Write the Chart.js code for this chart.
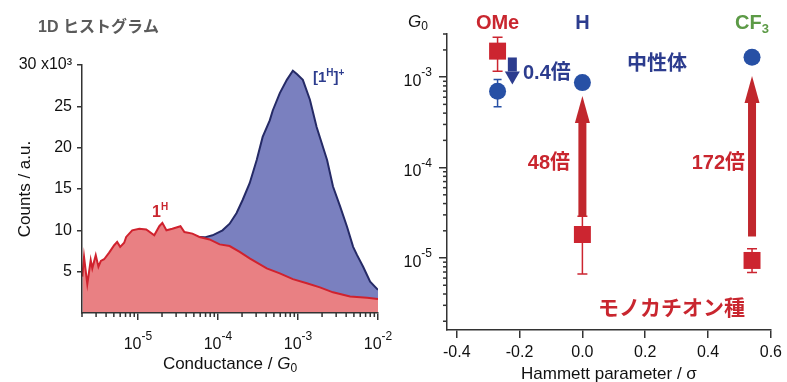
<!DOCTYPE html>
<html>
<head>
<meta charset="utf-8">
<script src="https://cdn.jsdelivr.net/npm/chart.js@4.4.1/dist/chart.umd.min.js"></script>
<style>
body { margin: 0; background: #fff; width: 787px; height: 382px; overflow: hidden; position: relative; }
canvas { position: absolute; top: 0; }
#histChart { left: 0; }
#hammettChart { left: 390px; }
</style>
</head>
<body>
<canvas id="histChart" width="400" height="382"></canvas>
<canvas id="hammettChart" width="397" height="382"></canvas>
<script>
// 1D histogram of 1H (neutral), conductance in G0, counts in 10^3
var histG1H = [2.02e-6, 2.12e-6, 2.33e-6, 2.57e-6, 2.69e-6, 2.97e-6, 3.21e-6, 3.44e-6, 3.78e-6, 4.37e-6,
    5.05e-6, 5.50e-6, 6.00e-6, 6.73e-6, 7.13e-6, 8.48e-6, 1.04e-5, 1.27e-5, 1.60e-5, 1.85e-5,
    2.02e-5, 2.27e-5, 2.69e-5, 3.40e-5, 3.81e-5, 4.80e-5, 5.87e-5, 7.85e-5, 1.05e-4, 1.40e-4,
    1.87e-4, 2.49e-4, 4.07e-4, 5.93e-4, 8.63e-4, 1.29e-3, 1.88e-3, 2.74e-3, 4.48e-3, 7.32e-3, 1.0e-2];
var histCounts1H = [4.4, 6.8, 3.5, 6.4, 5.4, 7.0, 5.6, 6.3, 6.5, 7.3,
    8.2, 8.6, 8.0, 8.5, 9.2, 10.0, 10.2, 10.1, 9.4, 10.5,
    10.9, 10.0, 10.2, 10.5, 9.8, 9.6, 9.2, 8.9, 8.3, 8.1,
    7.4, 6.6, 5.4, 4.8, 4.1, 3.6, 3.1, 2.5, 2.0, 1.85, 1.7];

// 1D histogram of [1H]+ (monocation)
var histGCation = [5.87e-5, 6.83e-5, 8.55e-5, 1.14e-4, 1.40e-4, 1.71e-4, 2.04e-4, 2.49e-4, 3.05e-4, 3.62e-4,
    4.44e-4, 4.84e-4, 5.93e-4, 7.26e-4, 8.63e-4, 9.68e-4, 1.15e-3, 1.41e-3, 1.71e-3, 2.31e-3,
    2.74e-3, 3.36e-3, 4.11e-3, 4.89e-3, 5.48e-3, 6.52e-3, 7.98e-3, 1.0e-2];
var histCountsCation = [9.2, 9.15, 9.4, 10.0, 10.8, 12.1, 13.7, 15.7, 18.5, 21.3,
    23.3, 24.5, 26.6, 28.2, 29.3, 28.9, 28.2, 25.8, 22.5, 18.5,
    15.3, 12.9, 10.4, 8.0, 7.0, 5.6, 3.8, 2.8];

var histYTicks = [5, 10, 15, 20, 25, 30];
var histXDecades = [1e-5, 1e-4, 1e-3, 1e-2];

// Hammett plot
var substituents = ['OMe', 'H', 'CF3'];
var hammettSigma = [-0.27, 0, 0.54];
var neutralG = [7.0e-4, 8.7e-4, 1.66e-3];
var neutralErrLow = [4.7e-4, null, null];
var neutralErrHigh = [9.4e-4, null, null];
var cationG = [1.94e-3, 1.82e-5, 9.4e-6];
var cationErrLow = [1.16e-3, 6.65e-6, 6.9e-6];
var cationErrHigh = [2.77e-3, 2.9e-5, 1.27e-5];
var ratioLabels = ['0.4倍', '48倍', '172倍'];
var arrowSigma = [-0.223, 0, 0.54];
var arrowFrom = [1.65e-3, 2.9e-5, 1.73e-5];
var arrowTo = [8.3e-4, 6.2e-4, 1.03e-3];
var hammettXTicks = [-0.4, -0.2, 0, 0.2, 0.4, 0.6];
var hammettYDecades = [1e-5, 1e-4, 1e-3];

var LS = '"Liberation Sans", Arial, sans-serif';
var JP = '"Noto Sans CJK JP", sans-serif';
var AXIS = '#333';
var RED = '#cc2530';
var RED_TEXT = '#c9262f';
var BLUE = '#2750a5';
var NAVY = '#2c3c8e';
var GREEN = '#5c9a46';

// draw a run of text pieces with different fonts / offsets
function drawRich(ctx, parts, x, y, align) {
    var total = 0;
    parts.forEach(function(p) {
        ctx.font = p.font;
        p.w = ctx.measureText(p.text).width;
        total += p.w;
    });
    var cx = align === 'center' ? x - total / 2 : (align === 'right' ? x - total : x);
    ctx.textAlign = 'left';
    ctx.textBaseline = 'alphabetic';
    parts.forEach(function(p) {
        ctx.font = p.font;
        ctx.fillText(p.text, cx, y + (p.dy || 0));
        cx += p.w;
    });
}

function powParts(exp) {
    return [
        {text: '10', font: '16px ' + LS},
        {text: '-' + exp, font: '12px ' + LS, dy: -9}
    ];
}

function minorTicks(scale, cb) {
    var lo = Math.floor(Math.log10(scale.min));
    var hi = Math.ceil(Math.log10(scale.max));
    for (var e = lo; e <= hi; e++) {
        for (var k = 2; k <= 9; k++) {
            var v = k * Math.pow(10, e);
            if (v >= scale.min * 0.999 && v <= scale.max * 1.001) {
                cb(scale.getPixelForValue(v));
            }
        }
    }
}

var histDecorations = {
    id: 'histDecorations',
    afterDraw: function(chart) {
        var ctx = chart.ctx, x = chart.scales.x, area = chart.chartArea;
        ctx.save();
        ctx.strokeStyle = AXIS;
        ctx.lineWidth = 1.5;
        minorTicks(x, function(px) {
            ctx.beginPath();
            ctx.moveTo(px, area.bottom);
            ctx.lineTo(px, area.bottom + 4);
            ctx.stroke();
        });
        ctx.fillStyle = '#111';
        histXDecades.forEach(function(v) {
            drawRich(ctx, powParts(Math.round(-Math.log10(v))), x.getPixelForValue(v), area.bottom + 36, 'center');
        });
        drawRich(ctx, [
            {text: 'Conductance / ', font: '17px ' + LS},
            {text: 'G', font: 'italic 17px ' + LS},
            {text: '0', font: '12px ' + LS, dy: 3}
        ], (area.left + area.right) / 2, area.bottom + 56, 'center');

        ctx.save();
        ctx.translate(29.5, (area.top + area.bottom) / 2);
        ctx.rotate(-Math.PI / 2);
        ctx.font = '17px ' + LS;
        ctx.textAlign = 'center';
        ctx.fillText('Counts / a.u.', 0, 0);
        ctx.restore();

        ctx.fillStyle = '#5a5a5a';
        drawRich(ctx, [
            {text: '1D ', font: 'bold 16px ' + LS},
            {text: 'ヒストグラム', font: 'bold 16px ' + JP}
        ], 38, 32, 'left');

        ctx.fillStyle = RED_TEXT;
        drawRich(ctx, [
            {text: '1', font: 'bold 16px ' + LS},
            {text: 'H', font: 'bold 10px ' + LS, dy: -7}
        ], 152, 217, 'left');

        ctx.fillStyle = NAVY;
        drawRich(ctx, [
            {text: '[1', font: 'bold 15px ' + LS},
            {text: 'H', font: 'bold 10px ' + LS, dy: -6},
            {text: ']', font: 'bold 15px ' + LS},
            {text: '+', font: 'bold 10px ' + LS, dy: -6}
        ], 313, 82, 'left');
        ctx.restore();
    }
};

new Chart(document.getElementById('histChart'), {
    type: 'line',
    data: {
        datasets: [
            {
                label: '1H',
                data: histG1H.map(function(g, i) { return {x: g, y: histCounts1H[i]}; }),
                borderColor: '#d0222e',
                backgroundColor: '#e98083',
                borderWidth: 2,
                fill: 'origin',
                pointRadius: 0,
                tension: 0
            },
            {
                label: '[1H]+',
                data: histGCation.map(function(g, i) { return {x: g, y: histCountsCation[i]}; }),
                borderColor: '#252a66',
                backgroundColor: '#7a80bf',
                borderWidth: 2,
                fill: 'origin',
                pointRadius: 0,
                tension: 0
            }
        ]
    },
    options: {
        responsive: false,
        animation: false,
        layout: {padding: {left: 0, right: 22, top: 65, bottom: 0}},
        plugins: {legend: {display: false}, tooltip: {enabled: false}},
        scales: {
            x: {
                type: 'logarithmic',
                min: 2e-6,
                max: 1e-2,
                afterBuildTicks: function(s) { s.ticks = histXDecades.map(function(v) { return {value: v}; }); },
                ticks: {display: false},
                grid: {drawOnChartArea: false, tickLength: 7, color: AXIS, lineWidth: 1.5},
                border: {color: AXIS, width: 1.5, z: 1},
                afterFit: function(s) { s.height = 69; }
            },
            y: {
                min: 0,
                max: 30,
                afterBuildTicks: function(s) { s.ticks = histYTicks.map(function(v) { return {value: v}; }); },
                ticks: {
                    color: '#111',
                    font: {family: LS, size: 16},
                    padding: 5,
                    callback: function(v) { return v === 30 ? '30 x10³' : v; }
                },
                grid: {drawOnChartArea: false, tickLength: 5, color: AXIS, lineWidth: 1.5},
                border: {color: AXIS, width: 1.5, z: 1},
                afterFit: function(s) { s.width = 82; }
            }
        }
    },
    plugins: [histDecorations]
});

function drawArrow(ctx, x, y0, y1, shaftW, headW, headLen, color) {
    var dir = y1 < y0 ? 1 : -1; // 1 = pointing up
    var base = y1 + dir * headLen;
    ctx.fillStyle = color;
    ctx.fillRect(x - shaftW / 2, Math.min(y0, base), shaftW, Math.abs(base - y0));
    ctx.beginPath();
    ctx.moveTo(x, y1);
    ctx.lineTo(x - headW / 2, base);
    ctx.lineTo(x + headW / 2, base);
    ctx.closePath();
    ctx.fill();
}

var hammettDecorations = {
    id: 'hammettDecorations',
    beforeDatasetsDraw: function(chart) {
        var ctx = chart.ctx, x = chart.scales.x, y = chart.scales.y;
        ctx.save();
        ctx.lineWidth = 1.5;
        function bars(lo, hi, color, cap) {
            ctx.strokeStyle = color;
            hammettSigma.forEach(function(s, i) {
                if (lo[i] == null) return;
                var px = x.getPixelForValue(s), a = y.getPixelForValue(lo[i]), b = y.getPixelForValue(hi[i]);
                ctx.beginPath();
                ctx.moveTo(px, a); ctx.lineTo(px, b);
                ctx.moveTo(px - cap, a); ctx.lineTo(px + cap, a);
                ctx.moveTo(px - cap, b); ctx.lineTo(px + cap, b);
                ctx.stroke();
            });
        }
        bars(cationErrLow, cationErrHigh, RED, 5);
        bars(neutralErrLow, neutralErrHigh, BLUE, 4);
        ctx.restore();
    },
    afterDraw: function(chart) {
        var ctx = chart.ctx, x = chart.scales.x, y = chart.scales.y, area = chart.chartArea;
        ctx.save();
        ctx.strokeStyle = AXIS;
        ctx.lineWidth = 1.5;
        minorTicks(y, function(py) {
            ctx.beginPath();
            ctx.moveTo(area.left, py);
            ctx.lineTo(area.left - 4, py);
            ctx.stroke();
        });
        ctx.fillStyle = '#111';
        hammettYDecades.forEach(function(v) {
            var py = y.getPixelForValue(v);
            drawRich(ctx, [
                {text: '10', font: '16px ' + LS, dy: 0},
                {text: '-' + Math.round(-Math.log10(v)), font: '12px ' + LS, dy: -9.5}
            ], area.left - 15, py + 8.5, 'right');
        });
        drawRich(ctx, [
            {text: 'G', font: 'italic 17px ' + LS},
            {text: '0', font: '12px ' + LS, dy: 3}
        ], 18, 27, 'left');
        ctx.font = '17px ' + LS;
        ctx.textAlign = 'center';
        ctx.fillText('Hammett parameter / σ', (area.left + area.right) / 2, 379);

        // substituent labels
        var subColors = [RED_TEXT, NAVY, GREEN];
        substituents.forEach(function(name, i) {
            ctx.fillStyle = subColors[i];
            var parts = name === 'CF3'
                ? [{text: 'CF', font: 'bold 20px ' + LS}, {text: '3', font: 'bold 13px ' + LS, dy: 4}]
                : [{text: name, font: 'bold 20px ' + LS}];
            drawRich(ctx, parts, x.getPixelForValue(hammettSigma[i]), 29, 'center');
        });

        // arrows
        arrowSigma.forEach(function(s, i) {
            var px = x.getPixelForValue(s);
            if (i === 0) {
                drawArrow(ctx, px, y.getPixelForValue(arrowFrom[i]), y.getPixelForValue(arrowTo[i]), 9, 15, 13, NAVY);
            } else {
                drawArrow(ctx, px, y.getPixelForValue(arrowFrom[i]), y.getPixelForValue(arrowTo[i]), 8, 15, 27, '#c1272d');
            }
        });

        // ratio labels
        ctx.fillStyle = NAVY;
        drawRich(ctx, [
            {text: ratioLabels[0].replace('倍', ''), font: 'bold 20px ' + LS},
            {text: '倍', font: 'bold 20px ' + JP}
        ], 133, 79, 'left');
        ctx.font = 'bold 20px ' + JP;
        ctx.textAlign = 'left';
        ctx.fillText('中性体', 237, 70);
        ctx.fillStyle = RED_TEXT;
        drawRich(ctx, [
            {text: ratioLabels[1].replace('倍', ''), font: 'bold 20px ' + LS},
            {text: '倍', font: 'bold 20px ' + JP}
        ], 180, 169, 'right');
        drawRich(ctx, [
            {text: ratioLabels[2].replace('倍', ''), font: 'bold 20px ' + LS},
            {text: '倍', font: 'bold 20px ' + JP}
        ], 355, 169, 'right');
        ctx.font = 'bold 21px ' + JP;
        ctx.textAlign = 'left';
        ctx.fillText('モノカチオン種', 208, 315);
        ctx.restore();
    }
};

new Chart(document.getElementById('hammettChart'), {
    type: 'scatter',
    data: {
        datasets: [
            {
                label: '中性体',
                data: hammettSigma.map(function(s, i) { return {x: s, y: neutralG[i]}; }),
                pointStyle: 'circle',
                pointRadius: 8.5,
                backgroundColor: BLUE,
                borderWidth: 0
            },
            {
                label: 'モノカチオン種',
                data: hammettSigma.map(function(s, i) { return {x: s, y: cationG[i]}; }),
                pointStyle: 'rect',
                pointRadius: 12,
                backgroundColor: RED,
                borderWidth: 0
            }
        ]
    },
    options: {
        responsive: false,
        animation: false,
        layout: {padding: {left: 0, right: 15, top: 34, bottom: 0}},
        plugins: {legend: {display: false}, tooltip: {enabled: false}},
        scales: {
            x: {
                type: 'linear',
                min: -0.431,
                max: 0.6,
                afterBuildTicks: function(s) { s.ticks = hammettXTicks.map(function(v) { return {value: v}; }); },
                ticks: {
                    color: '#111',
                    font: {family: LS, size: 16},
                    padding: 5,
                    maxRotation: 0,
                    autoSkip: false,
                    callback: function(v) { return v.toFixed(1); }
                },
                grid: {drawOnChartArea: false, tickLength: 8, color: AXIS, lineWidth: 1.5},
                border: {color: AXIS, width: 1.5, z: 1},
                afterFit: function(s) { s.height = 52; }
            },
            y: {
                type: 'logarithmic',
                min: 1.6e-6,
                max: 3e-3,
                afterBuildTicks: function(s) { s.ticks = hammettYDecades.map(function(v) { return {value: v}; }); },
                ticks: {display: false},
                grid: {drawOnChartArea: false, tickLength: 8, color: AXIS, lineWidth: 1.5},
                border: {color: AXIS, width: 1.5, z: 1},
                afterFit: function(s) { s.width = 57; }
            }
        }
    },
    plugins: [hammettDecorations]
});
</script>
</body>
</html>
